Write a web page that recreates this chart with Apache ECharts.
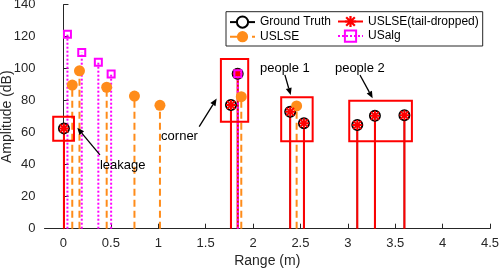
<!DOCTYPE html>
<html><head><meta charset="utf-8">
<script src="https://cdn.jsdelivr.net/npm/echarts@6/dist/echarts.min.js"></script>
<style>html,body{margin:0;padding:0;background:#fff}#c{width:500px;height:272px}</style>
</head><body><div id="c"></div>
<script>
// ---- data ----
const xTicks = [0, 0.5, 1, 1.5, 2, 2.5, 3, 3.5, 4, 4.5];
const yTicks = [0, 20, 40, 60, 80, 100, 120, 140];
const gtRange = [0.005, 1.767, 1.838, 2.392, 2.537, 3.100, 3.286, 3.597];
const gtAmp   = [62.7, 77.3, 96.9, 73.1, 65.9, 64.8, 70.6, 70.9];
const tdRange = [0.005, 1.767, 1.838, 2.392, 2.537, 3.100, 3.286, 3.597];
const tdAmp   = [62.7, 77.3, 96.9, 73.1, 65.9, 64.8, 70.6, 70.9];
const uslseRange = [0.093, 0.169, 0.456, 0.749, 1.018, 1.876, 2.460];
const uslseAmp   = [89.8, 98.7, 88.4, 82.9, 77.1, 82.5, 76.7];
const usalgRange = [0.042, 0.193, 0.368, 0.503, 1.840];
const usalgAmp   = [121.5, 110.2, 104.0, 96.7, 96.9];
// annotation boxes [xmin, xmax, ymin, ymax] in data units
const boxNames = ['leakage', 'corner', 'people 1', 'people 2'];
const boxX0 = [-0.108, 1.661, 2.297, 3.015];
const boxX1 = [0.111, 1.949, 2.629, 3.676];
const boxY0 = [55.0, 66.9, 54.6, 54.6];
const boxY1 = [70.0, 106.1, 82.1, 80.0];
// label anchor (left, middle) and arrow tail/head in data units
const labelX = [0.385, 1.030, 2.073, 2.864];
const labelY = [39.4, 57.5, 100.3, 100.3];
const arrowFromX = [0.385, 1.432, 2.336, 3.128];
const arrowFromY = [46.1, 63.8, 96.1, 96.1];
const arrowToX = [0.146, 1.616, 2.397, 3.262];
const arrowToY = [63.1, 81.3, 83.6, 81.5];

const FONT = 'Liberation Sans, Arial, Helvetica, sans-serif';
const AX = '#262626';
const ORANGE = '#ff8c1a';
const ASTERISK = 'path://M0 8H20V12H0Z M8 0H12V20H8Z M0.9 3.7L3.7 0.9L19.1 16.3L16.3 19.1Z M16.3 0.9L19.1 3.7L3.7 19.1L0.9 16.3Z';

function stems(name, xs, ys, style) {
  return xs.map((x, i) => Object.assign({
    name: name, type: 'line', silent: true, animation: false,
    emphasis: { disabled: true },
    data: [{ value: [x, 0], symbol: 'none' }, [x, ys[i]]]
  }, style));
}

const series = [].concat(
  stems('Ground Truth', gtRange, gtAmp, {
    lineStyle: { color: '#000', width: 1.5 },
    symbol: 'emptyCircle', symbolSize: 10,
    itemStyle: { color: '#000', borderWidth: 1.5 }
  }),
  stems('USLSE', uslseRange, uslseAmp, {
    lineStyle: { color: ORANGE, width: 2, type: [7, 4] },
    symbol: 'circle', symbolSize: 11,
    itemStyle: { color: ORANGE }
  }),
  stems('USLSE(tail-dropped)', tdRange, tdAmp, {
    lineStyle: { color: '#ff0000', width: 2 },
    symbol: ASTERISK, symbolSize: 10,
    itemStyle: { color: '#ff0000' }
  }),
  stems('USalg', usalgRange, usalgAmp, {
    lineStyle: { color: '#ff00ff', width: 2, type: [2, 2] },
    symbol: 'rect', symbolSize: 7,
    itemStyle: { color: 'rgba(255,255,255,0)', borderColor: '#ff00ff', borderWidth: 2 }
  })
);

const chart = echarts.init(document.getElementById('c'), null, { renderer: 'canvas' });
const legendBase = {
  orient: 'vertical', top: 15.5, itemWidth: 25, itemHeight: 14, itemGap: 2, padding: 0,
  selectedMode: false, z: 6,
  textStyle: { fontSize: 12, color: '#000', fontFamily: FONT }
};
chart.setOption({
  animation: false,
  textStyle: { fontFamily: FONT },
  grid: { left: 44.5, right: 10, top: 4.7, bottom: 43.3, containLabel: false, outerBoundsMode: 'none' },
  xAxis: {
    type: 'value', min: -0.2, max: 4.5,
    name: 'Range (m)', nameLocation: 'middle', nameGap: 25, nameMoveOverlap: false,
    nameTextStyle: { fontSize: 14, color: AX, fontFamily: FONT },
    axisLine: { show: true, onZero: false, lineStyle: { color: AX, width: 1 } },
    axisTick: { show: true, inside: true, length: 5, customValues: xTicks, lineStyle: { color: AX } },
    axisLabel: { customValues: xTicks, color: AX, fontSize: 13, margin: 8, fontFamily: FONT },
    splitLine: { show: false }
  },
  yAxis: {
    type: 'value', min: 0, max: 140, interval: 20,
    name: 'Amplitude (dB)', nameLocation: 'middle', nameGap: 30, nameMoveOverlap: false,
    nameTextStyle: { fontSize: 14, color: AX, fontFamily: FONT },
    axisLine: { show: true, lineStyle: { color: AX, width: 1 } },
    axisTick: { show: true, inside: true, length: 5, customValues: yTicks, lineStyle: { color: AX } },
    axisLabel: { customValues: yTicks, color: AX, fontSize: 13, margin: 9, fontFamily: FONT },
    splitLine: { show: false }
  },
  legend: [
    Object.assign({}, legendBase, { left: 229, data: ['Ground Truth', 'USLSE'] }),
    Object.assign({}, legendBase, { left: 337, data: ['USLSE(tail-dropped)', 'USalg'] })
  ],
  series: series
});

// annotations (boxes, labels, arrows) placed through the grid's scales
function px(x, y) { return chart.convertToPixel({ gridIndex: 0 }, [x, y]); }
const g = [];
g.push({ type: 'rect', z: 5, silent: true,
  shape: { x: 226, y: 11.7, width: 256.7, height: 34.3 },
  style: { fill: '#fff', stroke: AX, lineWidth: 1 } });
boxNames.forEach((nm, i) => {
  const a = px(boxX0[i], boxY1[i]), b = px(boxX1[i], boxY0[i]);
  g.push({ type: 'rect', z: 10, silent: true,
    shape: { x: a[0], y: a[1], width: b[0] - a[0], height: b[1] - a[1] },
    style: { fill: 'none', stroke: '#ff0000', lineWidth: 2 } });
  const t = px(labelX[i], labelY[i]);
  g.push({ type: 'text', z: 10, silent: true, x: t[0], y: t[1],
    style: { text: nm, font: '13px ' + FONT, fill: '#000', align: 'left', verticalAlign: 'middle' } });
  const p0 = px(arrowFromX[i], arrowFromY[i]), p1 = px(arrowToX[i], arrowToY[i]);
  const dx = p1[0] - p0[0], dy = p1[1] - p0[1], L = Math.hypot(dx, dy);
  const ux = dx / L, uy = dy / L, hl = 7, hw = 3;
  const bx = p1[0] - ux * hl, by = p1[1] - uy * hl;
  g.push({ type: 'line', z: 10, silent: true,
    shape: { x1: p0[0], y1: p0[1], x2: bx, y2: by },
    style: { stroke: '#000', lineWidth: 1.3 } });
  g.push({ type: 'polygon', z: 10, silent: true,
    shape: { points: [[p1[0], p1[1]], [bx - uy * hw, by + ux * hw], [bx + uy * hw, by - ux * hw]] },
    style: { fill: '#000' } });
});
chart.setOption({ graphic: g });
</script></body></html>
